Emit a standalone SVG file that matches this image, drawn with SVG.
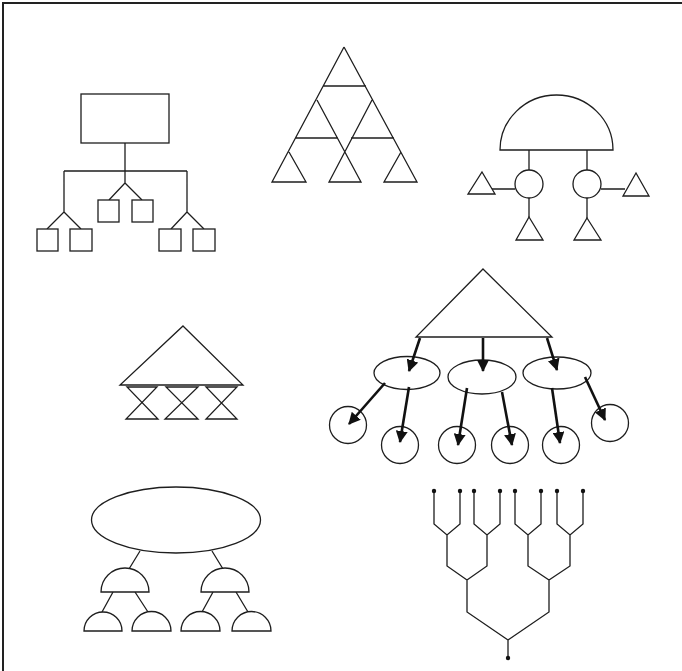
<svg xmlns="http://www.w3.org/2000/svg" width="682" height="671" viewBox="0 0 682 671">
<style>
.s{fill:#fff;stroke:#1e1e1e;stroke-width:1.3}
.l{fill:none;stroke:#1e1e1e;stroke-width:1.3}
.a{fill:none;stroke:#111;stroke-width:2.6}
.d{fill:#111}
</style>
<defs>
<marker id="ah" markerUnits="userSpaceOnUse" markerWidth="12" markerHeight="12" viewBox="0 0 12 12" refX="11" refY="6" orient="auto">
<path d="M0,0 L12,6 L0,12 Z" fill="#111"/>
</marker>
</defs>
<rect width="682" height="671" fill="#fff"/>
<path d="M3,671 V3 H682" fill="none" stroke="#222" stroke-width="2"/>

<g id="org-chart">
<g id="connectors-1">
<path class="l" d="M125,143 V171 M64,171 H187 M125,171 V183 L109,200 M125,183 L142,200 M64,171 V212 L47,229 M64,212 L81,229 M187,171 V212 L171,229 M187,212 L204,229"/>
</g>
<g id="n1-root"><rect class="s" x="81" y="94" width="88" height="49"/></g>
<g id="n1-a"><rect class="s" x="37" y="229" width="21" height="22"/></g>
<g id="n1-b"><rect class="s" x="70" y="229" width="22" height="22"/></g>
<g id="n1-c"><rect class="s" x="98" y="200" width="21" height="22"/></g>
<g id="n1-d"><rect class="s" x="132" y="200" width="21" height="22"/></g>
<g id="n1-e"><rect class="s" x="159" y="229" width="22" height="22"/></g>
<g id="n1-f"><rect class="s" x="193" y="229" width="22" height="22"/></g>
</g>

<g id="sierpinski">
<path class="l" d="M344,47 L272,182 H306 L289,152 M344,47 L417,182 H384 L401,152 M323,86 H366 M295,138 H338 M351,138 H394 M317,100 L361,182 H329 L372,100"/>
</g>

<g id="dome-tree">
<g id="connectors-3">
<path class="l" d="M529,150 V170 M587,150 V170 M529,198 V217 M587,198 V218 M492,189 H515 M601,189 H625"/>
</g>
<g id="n3-dome"><path class="s" d="M500,150 A56.5,55 0 0 1 613,150 Z"/></g>
<g id="n3-c1"><circle class="s" cx="529" cy="184" r="14"/></g>
<g id="n3-c2"><circle class="s" cx="587" cy="184" r="14"/></g>
<g id="n3-t1"><path class="s" d="M482,172 L495,194 H468 Z"/></g>
<g id="n3-t2"><path class="s" d="M636,173 L649,196 H623 Z"/></g>
<g id="n3-t3"><path class="s" d="M529,217 L543,240 H516 Z"/></g>
<g id="n3-t4"><path class="s" d="M587,218 L601,240 H574 Z"/></g>
</g>

<g id="triangle-hourglass">
<g id="n4-top"><path class="s" d="M183,326 L243,385 H120 Z"/></g>
<g id="n4-h1"><path class="l" d="M127,387 H157 L126,419 H158 Z"/></g>
<g id="n4-h2"><path class="l" d="M166,387 H198 L165,419 H198 Z"/></g>
<g id="n4-h3"><path class="l" d="M206,387 H237 L206,419 H237 Z"/></g>
</g>

<g id="arrow-tree">
<g id="n5-top"><path class="s" d="M483,269 L552,337 H416 Z"/></g>
<g id="n5-e1"><ellipse class="s" cx="407" cy="373" rx="33" ry="16.5"/></g>
<g id="n5-e2"><ellipse class="s" cx="482" cy="377" rx="34" ry="17"/></g>
<g id="n5-e3"><ellipse class="s" cx="557" cy="373" rx="34" ry="16"/></g>
<g id="n5-c1"><circle class="s" cx="348" cy="425" r="18.5"/></g>
<g id="n5-c2"><circle class="s" cx="400" cy="445" r="18.5"/></g>
<g id="n5-c3"><circle class="s" cx="457" cy="445" r="18.5"/></g>
<g id="n5-c4"><circle class="s" cx="510" cy="445" r="18.5"/></g>
<g id="n5-c5"><circle class="s" cx="561" cy="445" r="18.5"/></g>
<g id="n5-c6"><circle class="s" cx="610" cy="423" r="18.5"/></g>
<g id="connectors-5">
<line class="a" x1="420" y1="338" x2="409" y2="371" marker-end="url(#ah)"/>
<line class="a" x1="483" y1="338" x2="483" y2="371" marker-end="url(#ah)"/>
<line class="a" x1="547" y1="338" x2="557" y2="370" marker-end="url(#ah)"/>
<line class="a" x1="385" y1="383" x2="349" y2="424" marker-end="url(#ah)"/>
<line class="a" x1="409" y1="387" x2="400" y2="442" marker-end="url(#ah)"/>
<line class="a" x1="467" y1="388" x2="458" y2="445" marker-end="url(#ah)"/>
<line class="a" x1="502" y1="392" x2="512" y2="445" marker-end="url(#ah)"/>
<line class="a" x1="552" y1="388" x2="560" y2="443" marker-end="url(#ah)"/>
<line class="a" x1="585" y1="377" x2="605" y2="420" marker-end="url(#ah)"/>
</g>
</g>

<g id="ellipse-domes">
<g id="connectors-6">
<path class="l" d="M140,551 L129,569 M212,551 L223,569 M113,592 L102,612 M135,592 L148,612 M213,592 L202,612 M236,592 L248,612"/>
</g>
<g id="n6-root"><ellipse class="s" cx="176" cy="520" rx="84.5" ry="33"/></g>
<g id="n6-a"><path class="s" d="M101,592 A24,24 0 0 1 149,592 Z"/></g>
<g id="n6-b"><path class="s" d="M201,592 A24,24 0 0 1 249,592 Z"/></g>
<g id="n6-c"><path class="s" d="M84,631 A19,19 0 0 1 122,631 Z"/></g>
<g id="n6-d"><path class="s" d="M132,631 A19.5,19.5 0 0 1 171,631 Z"/></g>
<g id="n6-e"><path class="s" d="M181,631 A19.5,19.5 0 0 1 220,631 Z"/></g>
<g id="n6-f"><path class="s" d="M232,631 A19.5,19.5 0 0 1 271,631 Z"/></g>
</g>

<g id="bracket-tree">
<path class="l" d="M434,491 V524 L447,535 L460,524 V491 M474,491 V524 L487,535 L500,524 V491 M515,491 V524 L528,535 L541,524 V491 M557,491 V524 L570,535 L583,524 V491 M447,535 V566 L467,580 L487,566 V535 M528,535 V566 L549,580 L570,566 V535 M467,580 V612 L508,640 L549,612 V580 M508,640 V658"/>
<g class="d">
<circle cx="434" cy="491" r="2.2"/><circle cx="460" cy="491" r="2.2"/>
<circle cx="474" cy="491" r="2.2"/><circle cx="500" cy="491" r="2.2"/>
<circle cx="515" cy="491" r="2.2"/><circle cx="541" cy="491" r="2.2"/>
<circle cx="557" cy="491" r="2.2"/><circle cx="583" cy="491" r="2.2"/>
<circle cx="508" cy="658" r="2.2"/>
</g>
</g>
</svg>
